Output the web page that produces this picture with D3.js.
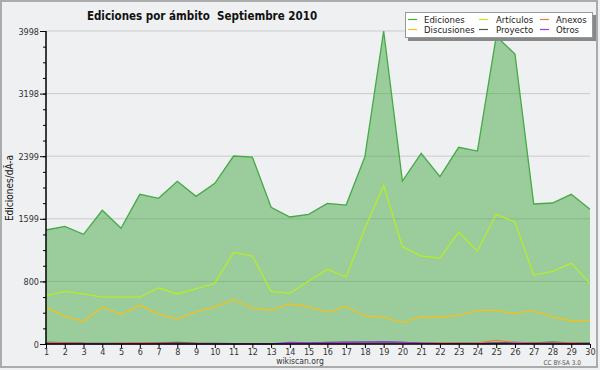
<!DOCTYPE html>
<html>
<head>
<meta charset="utf-8">
<script src="https://cdn.jsdelivr.net/npm/d3@7"></script>
<style>
  body { margin: 0; background: #eff0f2; }
  svg { display: block; }
  text { font-family: "DejaVu Sans Condensed", "DejaVu Sans", sans-serif; }
</style>
</head>
<body>
<div id="chart"></div>
<script>
// days of the month
var days = d3.range(1, 31);

// series values (edits per day)
var ediciones = [1456,1503,1401,1708,1478,1912,1861,2078,1886,2052,2401,2388,1746,1622,1657,
                 1797,1775,2393,3998,2082,2435,2137,2512,2465,3930,3704,1788,1801,1912,1720];
var articulos = [617,673,639,600,600,600,715,639,707,775,1171,1124,673,651,801,
                 954,856,1478,2022,1243,1124,1098,1427,1188,1657,1558,881,929,1031,775];
var discusiones = [464,354,290,473,379,494,383,319,409,473,566,460,430,511,477,
                   405,481,358,341,277,345,345,366,430,430,392,430,345,294,302];
var anexos = [15,15,8,5,12,15,10,8,8,5,5,5,3,3,3,3,3,5,5,5,10,15,10,15,45,20,10,10,15,5];
var proyecto = [20,18,10,8,8,10,15,20,10,8,5,5,5,5,10,20,25,25,25,20,10,10,12,10,15,20,15,25,15,10];
var otros = [2,2,2,2,2,2,2,2,2,2,2,2,2,20,15,15,20,25,30,20,10,5,5,5,5,10,5,2,2,2];

var yMax = 3998;
var yTickLabels = ["0", "800", "1599", "2399", "3198", "3998"];

var legendItems = [
  {name: "Ediciones", color: "#44aa44", col: 0, row: 0},
  {name: "Discusiones", color: "#f2c21a", col: 0, row: 1},
  {name: "Artículos", color: "#b8ec2a", col: 1, row: 0},
  {name: "Proyecto", color: "#555555", col: 1, row: 1},
  {name: "Anexos", color: "#f47a40", col: 2, row: 0},
  {name: "Otros", color: "#8f3cf0", col: 2, row: 1}
];

var W = 600, H = 370;
var svg = d3.select("#chart").append("svg")
  .attr("width", W)
  .attr("height", H);

// frame
svg.append("rect")
  .attr("x", 1).attr("y", 1)
  .attr("width", 596).attr("height", 366)
  .attr("fill", "#eff0f2")
  .attr("stroke", "#ababab")
  .attr("stroke-width", 2);

var x = d3.scaleLinear().domain([1, 30]).range([46, 590]);
var y = d3.scaleLinear().domain([0, yMax]).range([344, 31]);

var majors = d3.range(0, 6).map(function(i) { return i * yMax / 5; });
var minors = d3.range(0, 21).map(function(i) { return i * yMax / 20; });

// grid lines
svg.append("g")
  .selectAll("line")
  .data(majors.slice(1))
  .enter().append("line")
  .attr("x1", x(1)).attr("x2", x(30))
  .attr("y1", function(d) { return y(d); })
  .attr("y2", function(d) { return y(d); })
  .attr("stroke", "#cbcbcb")
  .attr("stroke-width", 1);

// Ediciones area
var area = d3.area()
  .x(function(d, i) { return x(days[i]); })
  .y0(y(0))
  .y1(function(d) { return y(d); });

svg.append("path")
  .datum(ediciones)
  .attr("d", area)
  .attr("fill", "rgb(70,168,70)")
  .attr("fill-opacity", 0.5);

var line = d3.line()
  .x(function(d, i) { return x(days[i]); })
  .y(function(d) { return y(d); });

var series = [
  {data: ediciones, color: "#44aa44"},
  {data: articulos, color: "#b8ec2a"},
  {data: discusiones, color: "#f2c21a"},
  {data: proyecto, color: "#555555"},
  {data: anexos, color: "#f47a40"},
  {data: otros, color: "#8f3cf0"}
];

svg.append("g")
  .selectAll("path")
  .data(series)
  .enter().append("path")
  .attr("d", function(d) { return line(d.data); })
  .attr("fill", "none")
  .attr("stroke", function(d) { return d.color; })
  .attr("stroke-width", 1.3);

// y axis
var yAxis = svg.append("g").attr("transform", "translate(46,0)");
yAxis.call(d3.axisLeft(y).tickValues(minors).tickSize(3).tickFormat(""))
  .call(function(g) { g.select(".domain").remove(); });
var yMaj = svg.append("g").attr("transform", "translate(46,0)");
yMaj.call(d3.axisLeft(y).tickValues(majors).tickSize(6).tickPadding(1)
    .tickFormat(function(d, i) { return yTickLabels[i]; }))
  .call(function(g) {
    g.select(".domain").remove();
    g.selectAll("text").attr("font-family", null).attr("font-size", 9).attr("fill", "#333").attr("dy", "0.35em");
  });
svg.selectAll(".tick line").attr("stroke", "#000");
svg.append("line")
  .attr("x1", 46).attr("x2", 46)
  .attr("y1", 31).attr("y2", 345)
  .attr("stroke", "#000").attr("stroke-width", 1.5);

// x axis
var xAxis = svg.append("g").attr("transform", "translate(0,344)");
xAxis.call(d3.axisBottom(x).tickValues(days).tickSize(4).tickPadding(1).tickFormat(d3.format("d")))
  .call(function(g) {
    g.select(".domain").remove();
    g.selectAll(".tick line").attr("stroke", "#000");
    g.selectAll("text").attr("font-family", null).attr("font-size", 9).attr("fill", "#333");
  });
svg.append("line")
  .attr("x1", 45).attr("x2", 590)
  .attr("y1", 344).attr("y2", 344)
  .attr("stroke", "#000").attr("stroke-width", 1.5);

// title
svg.append("text")
  .attr("x", 202).attr("y", 20)
  .attr("text-anchor", "middle")
  .style("font-size", "11.5px")
  .style("font-weight", "bold")
  .attr("fill", "#111")
  .attr("xml:space", "preserve")
  .text("Ediciones por ámbito  Septiembre 2010");

// y label
svg.append("text")
  .attr("transform", "translate(13,188) rotate(-90)")
  .attr("text-anchor", "middle")
  .style("font-size", "10px")
  .attr("fill", "#111")
  .text("Ediciones/dÃ-a");

// footer
svg.append("text")
  .attr("x", 300).attr("y", 364)
  .attr("text-anchor", "middle")
  .style("font-size", "8.5px")
  .attr("fill", "#333")
  .text("wikiscan.org");

svg.append("text")
  .attr("x", 581).attr("y", 365)
  .attr("text-anchor", "end")
  .style("font-size", "6.5px")
  .attr("fill", "#555")
  .text("CC BY-SA 3.0");

// legend
var leg = svg.append("g");
leg.append("rect")
  .attr("x", 408).attr("y", 15)
  .attr("width", 188).attr("height", 26)
  .attr("fill", "#888");
leg.append("rect")
  .attr("x", 405.5).attr("y", 12.5)
  .attr("width", 187).attr("height", 25)
  .attr("fill", "#fff")
  .attr("stroke", "#999")
  .attr("stroke-width", 1);

var colLine = [408, 479, 540];
var colText = [424, 496, 556];
var rowY = [19.5, 29.5];

var items = leg.selectAll(".item")
  .data(legendItems)
  .enter().append("g")
  .attr("class", "item");
items.append("line")
  .attr("x1", function(d) { return colLine[d.col]; })
  .attr("x2", function(d) { return colLine[d.col] + 9; })
  .attr("y1", function(d) { return rowY[d.row]; })
  .attr("y2", function(d) { return rowY[d.row]; })
  .attr("stroke", function(d) { return d.color; })
  .attr("stroke-width", 1.2);
items.append("text")
  .attr("x", function(d) { return colText[d.col]; })
  .attr("y", function(d) { return rowY[d.row] + 3.3; })
  .style("font-size", "9.5px")
  .attr("fill", "#222")
  .text(function(d) { return d.name; });
</script>
</body>
</html>
